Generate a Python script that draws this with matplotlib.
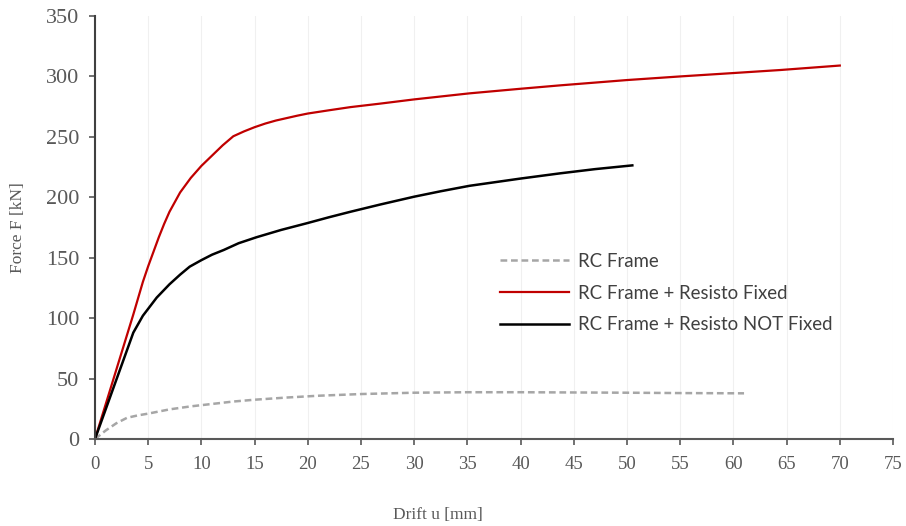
import numpy as np
import matplotlib.pyplot as plt

# pushover curves (drift in mm, force in kN)
drift_rc = [0, 1, 2, 3, 4, 5, 7, 9, 11, 13, 15, 18, 21, 25, 30, 35, 40, 45, 50, 55, 61]
force_rc = [0, 7, 13, 17.5, 19.5, 21, 24.5, 27, 29, 31, 32.5, 34.3, 35.8, 37.2, 38.3, 38.7, 38.7, 38.5, 38.3, 38.0, 37.8]

drift_fixed = [0, 3.6, 4.5, 5, 5.5, 6, 6.5, 7, 7.5, 8, 9, 10, 11, 12, 13, 14, 15, 16, 17, 18, 19, 20,
               22, 24, 26.8, 30, 35.2, 40, 43.7, 50, 55, 60, 64.4, 70]
force_fixed = [0, 103, 130, 143, 155, 167, 178, 188, 196, 204, 216, 226, 234.5, 243, 250.5, 254.5, 258,
               261, 263.5, 265.5, 267.5, 269.3, 272, 274.6, 277.5, 281, 286, 289.8, 292.6, 297, 300,
               302.8, 305.3, 309]

drift_notfixed = [0, 3.6, 4.5, 5.8, 7, 8, 8.9, 10, 11, 12.1, 13.5, 15.2, 17.5, 19.9, 22, 24, 26.8,
                  30, 32.5, 35.2, 38, 40, 43.7, 47, 50.5]
force_notfixed = [0, 88, 102, 117, 128, 136, 142.6, 148, 152.5, 156.4, 162, 167, 173, 178.5, 183.5,
                  188, 194, 200.5, 205, 209.5, 213, 215.5, 219.8, 223.3, 226.4]

labels = ["RC Frame", "RC Frame + Resisto Fixed", "RC Frame + Resisto NOT Fixed"]
x_ticks = np.arange(0, 80, 5)
y_ticks = np.arange(0, 400, 50)

fig = plt.figure(figsize=(9.06, 5.26), dpi=100)
ax = fig.add_axes([95 / 906, 1 - 439 / 526, 798 / 906, 423 / 526])

ax.plot(drift_rc, force_rc, color="#A6A6A6", lw=1.8, linestyle=(0, (2.7, 1.5)),
        dash_capstyle="butt", label=labels[0])
ax.plot(drift_fixed, force_fixed, color="#C00000", lw=1.6, label=labels[1])
ax.plot(drift_notfixed, force_notfixed, color="black", lw=1.8, label=labels[2])

ax.set_xlim(0, 75)
ax.set_ylim(0, 350)
ax.set_xticks(x_ticks)
ax.set_yticks(y_ticks)
ax.xaxis.grid(True, color="#F0F0F0", lw=0.8)
ax.set_axisbelow(True)

for side in ["top", "right"]:
    ax.spines[side].set_visible(False)
ax.spines["left"].set_color("#404040")
ax.spines["bottom"].set_color("#595959")
for side in ["left", "bottom"]:
    ax.spines[side].set_linewidth(1.5)

ax.tick_params(axis="both", direction="out", length=4, width=1.2, color="#595959",
               labelcolor="#595959")
ax.tick_params(axis="y", pad=7.5)
ax.tick_params(axis="x", pad=8)
for lab in ax.get_yticklabels():
    lab.set_fontfamily("Liberation Serif")
    lab.set_fontsize(16)
for lab in ax.get_xticklabels():
    lab.set_fontfamily("Liberation Serif")
    lab.set_fontsize(13.5)

ax.set_xlabel("Drift u [mm]", fontfamily="Liberation Serif", fontsize=12.5, color="#595959")
ax.set_ylabel("Force F [kN]", fontfamily="Liberation Serif", fontsize=12.5, color="#595959")
ax.xaxis.set_label_coords(0.43, -0.16)
ax.yaxis.set_label_coords(-0.086, 0.5)

leg = ax.legend(loc="center left", bbox_to_anchor=(0.5075, 0.345), frameon=False,
                prop={"family": "Lato", "size": 13.4}, handlelength=3.7,
                handletextpad=0.5, labelspacing=0.8, borderpad=0, borderaxespad=0)
for t in leg.get_texts():
    t.set_color("#404040")

fig.savefig("out.png", dpi=100)
